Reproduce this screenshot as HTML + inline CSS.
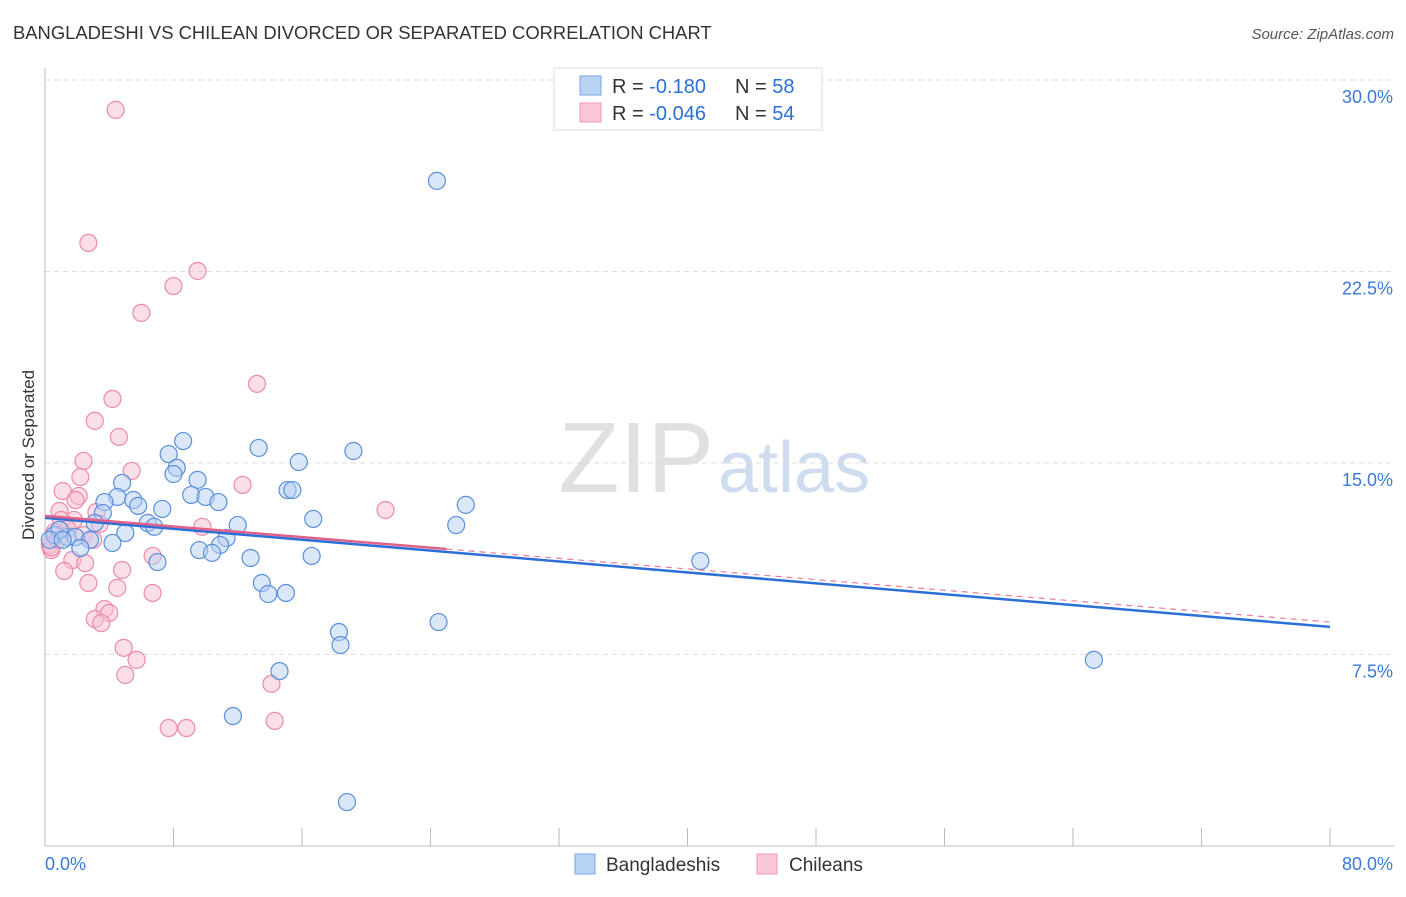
<!DOCTYPE html>
<html><head><meta charset="utf-8"><style>
body{margin:0;background:#fff;font-family:"Liberation Sans",sans-serif}
svg text{font-family:"Liberation Sans",sans-serif}
</style></head><body>
<svg id="chart" width="1406" height="892">
<text x="13" y="39" font-size="18.4" fill="#333">BANGLADESHI VS CHILEAN DIVORCED OR SEPARATED CORRELATION CHART</text>
<text x="1394" y="39" font-size="15" fill="#555" font-style="italic" text-anchor="end">Source: ZipAtlas.com</text>
<text x="714" y="492" font-size="100" fill="#e0e0e0" text-anchor="end" font-family="Liberation Serif">ZIP</text>
<text x="718" y="492" font-size="72" fill="#cfdcf0">atlas</text>
<g id="grid"></g><g id="axes"></g><g id="marks"></g>
<text transform="translate(34,455) rotate(-90)" font-size="17" fill="#333" text-anchor="middle">Divorced or Separated</text>
<g>
<rect x="554" y="68" width="268" height="62" fill="#fff" stroke="#ddd"/>
<rect x="580" y="76" width="21" height="19" fill="#b9d3f5" stroke="#7aa6e6"/>
<rect x="580" y="103" width="21" height="19" fill="#f9c7d6" stroke="#ee9ab3"/>
<text x="612" y="93" font-size="20" fill="#333">R = <tspan fill="#2c6fd6">-0.180</tspan><tspan x="735">N = </tspan><tspan fill="#2c6fd6">58</tspan></text>
<text x="612" y="120" font-size="20" fill="#333">R = <tspan fill="#2c6fd6">-0.046</tspan><tspan x="735">N = </tspan><tspan fill="#2c6fd6">54</tspan></text>
</g>
<g>
<rect x="575" y="854" width="20" height="20" fill="#b9d3f5" stroke="#7aa6e6"/>
<text x="606" y="871" font-size="19" fill="#333">Bangladeshis</text>
<rect x="757" y="854" width="20" height="20" fill="#f9c7d6" stroke="#ee9ab3"/>
<text x="789" y="871" font-size="19" fill="#333">Chileans</text>
</g>
</svg>
<script>
const yTicks=[7.5,15,22.5,30];
const yTickLabels=["7.5%","15.0%","22.5%","30.0%"];
const xTickLabels=["0.0%","80.0%"];
const blueX=[24.4,8.6,7.7,13.3,19.2,15.8,8.2,8.0,9.5,4.8,15.1,15.4,9.1,10.0,4.5,3.7,10.8,5.5,5.8,26.2,7.3,3.6,16.7,3.1,6.4,6.8,12.0,25.6,5.0,11.3,0.6,1.4,1.9,2.8,4.2,10.9,9.6,10.4,2.2,12.8,16.6,7.0,40.8,13.5,13.9,15.0,24.5,18.3,18.4,65.3,14.6,11.7,18.8,0.9,0.3,1.1];
const blueY=[26.05,15.86,15.35,15.59,15.47,15.04,14.81,14.57,14.34,14.22,13.94,13.94,13.75,13.67,13.67,13.47,13.47,13.55,13.32,13.36,13.2,13.04,12.81,12.65,12.65,12.5,12.57,12.57,12.26,12.06,12.18,12.1,12.1,11.99,11.87,11.79,11.59,11.48,11.67,11.28,11.36,11.12,11.16,10.3,9.87,9.91,8.77,8.38,7.87,7.29,6.85,5.09,1.72,12.38,11.99,11.99];
const pinkX=[4.4,2.7,9.5,8.0,6.0,13.2,4.2,3.1,4.6,2.4,5.4,2.2,1.1,2.1,1.9,12.3,21.2,0.9,3.2,1.8,1.0,9.8,3.4,1.4,0.6,2.4,3.0,0.3,0.4,6.7,1.7,2.5,4.8,1.2,2.7,4.5,6.7,3.7,4.0,3.1,3.5,4.9,5.7,5.0,14.1,7.7,8.8,14.3,0.4,0.8];
const pinkY=[28.83,23.62,22.52,21.93,20.88,18.1,17.51,16.65,16.02,15.08,14.69,14.45,13.9,13.71,13.55,14.14,13.16,13.12,13.08,12.77,12.77,12.5,12.61,12.42,12.3,12.18,11.99,11.79,11.59,11.36,11.2,11.08,10.81,10.77,10.3,10.11,9.91,9.28,9.13,8.89,8.73,7.76,7.29,6.7,6.35,4.62,4.62,4.9,11.7,12.0];
const blueTrend=[12.85,8.58];
const pinkTrend=[12.93,8.77];
const pinkSolidEnd=25;
const NS="http://www.w3.org/2000/svg";
const X0=45,X1=1330,Y0=846,Y1=80;
const sx=v=>X0+v/80*(X1-X0);
const sy=v=>Y0-v/30*(Y0-Y1);
function mk(tag,attrs,parent){const e=document.createElementNS(NS,tag);for(const k in attrs)e.setAttribute(k,attrs[k]);document.getElementById(parent).appendChild(e);return e;}
yTicks.forEach((t,i)=>{
 const g=mk('line',{x1:X0,x2:1394,y1:sy(t),y2:sy(t),stroke:'#ddd','stroke-dasharray':'5,4'},'grid');
 
 
 const l=mk('text',{x:1393,y:sy(t)+23,'font-size':18,fill:'#3b78d8','text-anchor':'end'},'grid');
 l.textContent=yTickLabels[i];
 
 
});
const ya=mk('line',{x1:X0,x2:X0,y1:68,y2:Y0,stroke:'#bbb'},'axes');


const xa=mk('line',{x1:X0,x2:1394,y1:Y0,y2:Y0,stroke:'#bbb'},'axes');


for(let i=0;i<=10;i++){const t=mk('line',{x1:sx(i*8),x2:sx(i*8),y1:Y0,y2:Y0-18,stroke:'#bbb'},'axes');
 
 }
xTickLabels.forEach((s,i)=>{const t=mk('text',{x:i?1393:45,y:870,'font-size':18,fill:'#3b78d8','text-anchor':i?'end':'start'},'axes');t.textContent=s;
 
 });
function pts(xs,ys,fill,stroke,name){xs.forEach((x,i)=>{const c=mk('circle',{cx:sx(x),cy:sy(ys[i]),r:8.5,fill:fill,'fill-opacity':0.5,stroke:stroke,'stroke-width':1.2},'marks');
 
 });}
pts(pinkX,pinkY,'#f7bfd0','#ec8aa8','chilean-point');
pts(blueX,blueY,'#b5cff3','#5a8fdc','bangladeshi-point');
const ty=(tr,x)=>tr[0]+(tr[1]-tr[0])*x/80;
const bl=mk('line',{x1:sx(0),y1:sy(blueTrend[0]),x2:sx(80),y2:sy(blueTrend[1]),stroke:'#2c6fd6','stroke-width':2.5},'marks');


const pd=mk('line',{x1:sx(pinkSolidEnd),y1:sy(ty(pinkTrend,pinkSolidEnd)),x2:sx(80),y2:sy(pinkTrend[1]),stroke:'#e77a9c','stroke-width':1.2,'stroke-dasharray':'6,5'},'marks');


const ps=mk('line',{x1:sx(0),y1:sy(pinkTrend[0]),x2:sx(pinkSolidEnd),y2:sy(ty(pinkTrend,pinkSolidEnd)),stroke:'#e0628a','stroke-width':2.5},'marks');


</script>
</body></html>
